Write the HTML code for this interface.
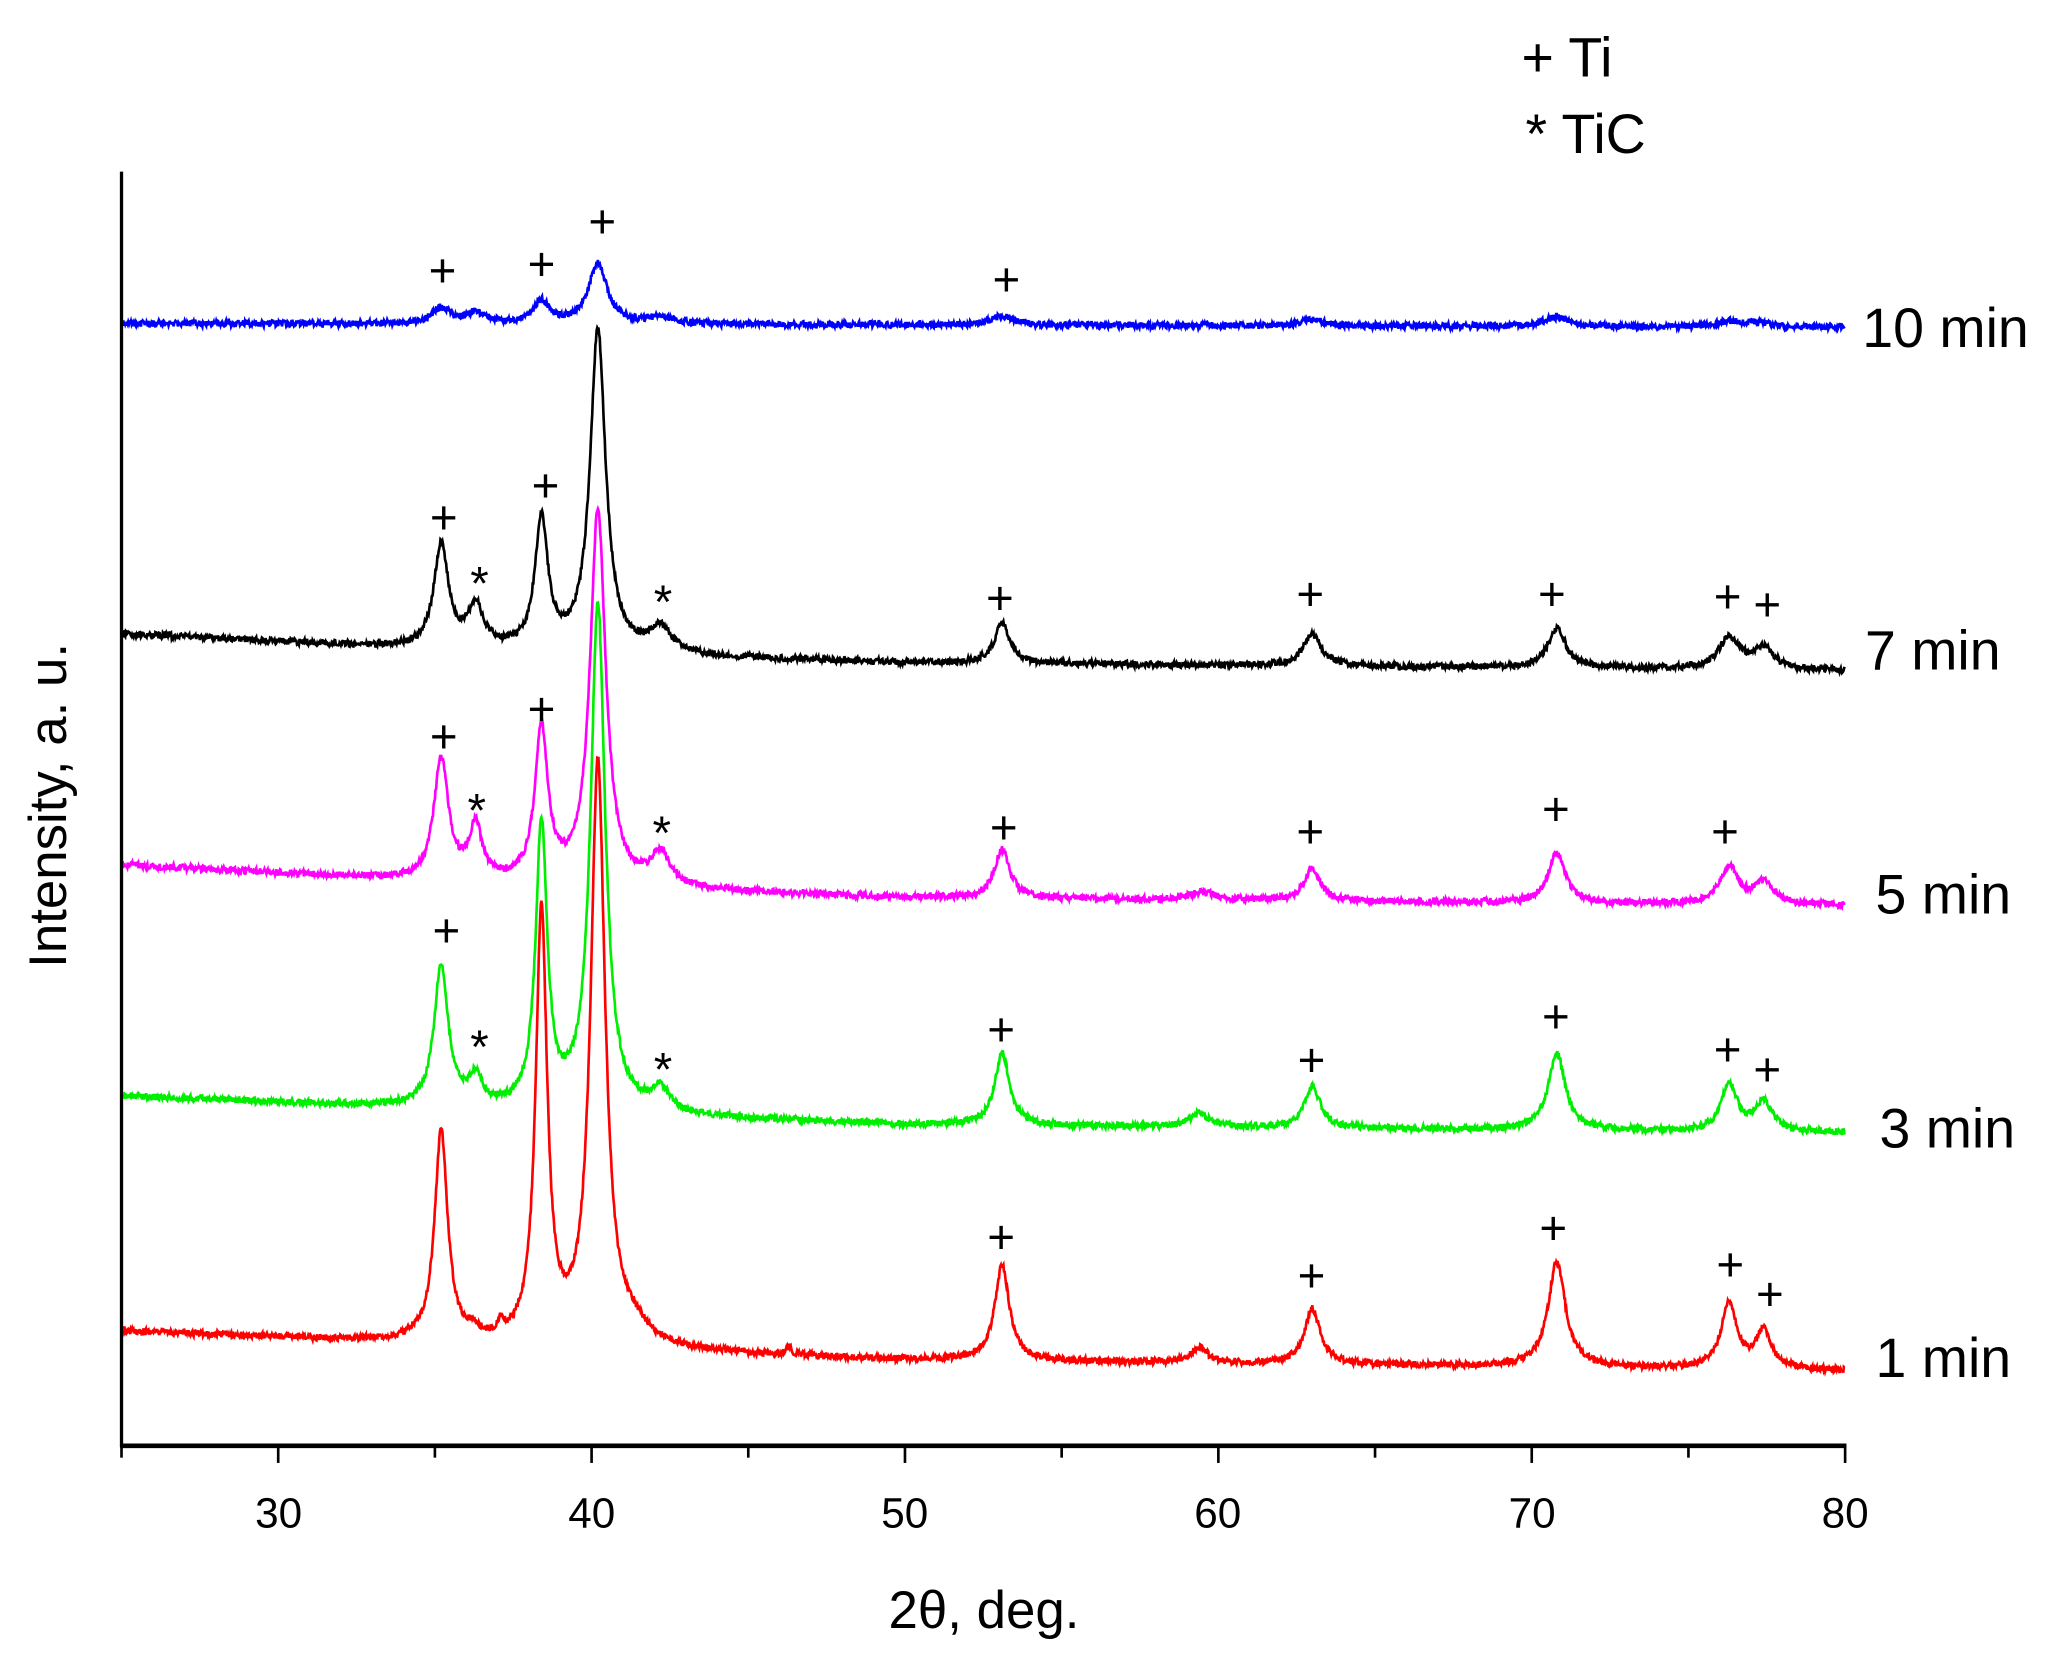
<!DOCTYPE html>
<html><head><meta charset="utf-8"><style>
html,body{margin:0;padding:0;background:#fff;}
svg{display:block;}
text{font-family:"Liberation Sans",sans-serif;fill:#000;}
</style></head><body>
<svg id="s" width="2071" height="1661" viewBox="0 0 1568 1258" preserveAspectRatio="none" xmlns="http://www.w3.org/2000/svg">
<rect width="1568" height="1258" fill="#fff"/>
<g id="curves"></g>
<line x1="92" y1="130" x2="92" y2="1096" stroke="#000" stroke-width="2.5"/>
<line x1="91" y1="1095" x2="1398" y2="1095" stroke="#000" stroke-width="3.5"/>
<g id="ticks" stroke="#000" stroke-width="2"></g>
<g font-size="32" text-anchor="middle">
<text x="211" y="1157">30</text><text x="448" y="1157">40</text><text x="685" y="1157">50</text>
<text x="922" y="1157">60</text><text x="1160" y="1157">70</text><text x="1397" y="1157">80</text>
</g>
<text x="745" y="1233" font-size="40" text-anchor="middle">2θ, deg.</text>
<text transform="translate(50,610) rotate(-90)" font-size="40" text-anchor="middle">Intensity, a. u.</text>
<g font-size="42">
<text x="1410" y="263">10 min</text>
<text x="1412" y="507">7 min</text>
<text x="1420" y="692">5 min</text>
<text x="1423" y="869">3 min</text>
<text x="1420" y="1043">1 min</text>
<text x="1152" y="58">+ Ti</text>
<text x="1155" y="116">* TiC</text>
</g>
<g id="marks" font-size="36" text-anchor="middle" font-weight="300"></g>
</svg>
<script>
var ns="http://www.w3.org/2000/svg";
function X(x){return 92+(x-25)*23.727;}
var seed=12345;function rnd(){seed=(seed*16807)%2147483647;return seed/2147483647;}
var series=[
{c:"#ff0000",b:[[25,1008],[35,1018],[50,1030],[80,1038]],p:[[35.2,160,.25],[36.2,6,.2],[37.1,8,.1],[38.4,325,.22],[40.2,440,.28],[41.3,12,.6],[46.3,6,.1],[53.1,72,.28],[59.4,12,.3],[63.0,42,.3],[70.8,80,.33],[76.3,50,.3],[77.4,28,.3]]},
{c:"#00ee00",b:[[25,830],[35,840],[50,852],[80,858]],p:[[35.2,108,.27],[36.3,22,.25],[38.4,215,.22],[40.2,385,.28],[42.2,18,.35],[53.1,55,.28],[59.4,10,.4],[63.0,32,.3],[70.8,58,.33],[76.3,36,.3],[77.4,22,.35]]},
{c:"#ff00ff",b:[[25,655],[35,668],[50,680],[80,686]],p:[[35.2,92,.28],[36.3,40,.25],[38.4,115,.25],[40.2,285,.3],[42.2,25,.35],[53.1,37,.3],[59.5,6,.5],[63.0,25,.3],[70.8,38,.33],[76.3,28,.35],[77.4,16,.4]]},
{c:"#000000",b:[[25,480],[35,492],[50,502],[80,508]],p:[[35.2,78,.28],[36.3,32,.3],[38.4,98,.25],[40.2,245,.3],[42.2,20,.4],[53.1,30,.3],[63.0,24,.35],[70.8,30,.35],[76.3,24,.4],[77.4,16,.4]]},
{c:"#0000ff",b:[[25,245],[50,246],[80,248]],p:[[35.2,12,.35],[36.3,8,.4],[38.4,17,.3],[40.2,46,.35],[42.2,5,.5],[53.1,7,.4],[63.0,5,.4],[70.8,7,.5],[76.3,4,.5],[77.2,3,.5]]}
];
function base(b,x){for(var i=0;i<b.length-1;i++){if(x<=b[i+1][0]){var t=(x-b[i][0])/(b[i+1][0]-b[i][0]);return b[i][1]+t*(b[i+1][1]-b[i][1]);}}return b[b.length-1][1];}
var g=document.getElementById("curves");
series.forEach(function(s){var d="";for(var x=25;x<=80;x+=0.02){var y=base(s.b,x);s.p.forEach(function(p){var u=(x-p[0])/p[2];y-=p[1]/(1+u*u);});y+=(rnd()-0.5)*5;d+=(d?"L":"M")+X(x).toFixed(1)+" "+y.toFixed(1);}
var e=document.createElementNS(ns,"path");e.setAttribute("d",d);e.setAttribute("fill","none");e.setAttribute("stroke",s.c);e.setAttribute("stroke-width","2");g.appendChild(e);});
var tk=document.getElementById("ticks");
for(var v=25;v<=80;v+=5){var l=document.createElementNS(ns,"line");l.setAttribute("x1",X(v));l.setAttribute("x2",X(v));l.setAttribute("y1",1095);l.setAttribute("y2",v%10==0?1108:1104);tk.appendChild(l);}
var plus=[[335,205],[410,200],[456,168],[762,212],[336,392],[413,368],[757,453],[992,450],[1175,450],[1308,452],[1338,458],[336,558],[410,537],[760,627],[992,630],[1178,613],[1306,630],[338,705],[758,780],[993,803],[1178,770],[1308,795],[1338,810],[758,937],[993,966],[1176,930],[1310,958],[1340,980]];
var stars=[[363,436],[502,450],[361,608],[501,625],[363,787],[502,804]];
var mk=document.getElementById("marks");
plus.forEach(function(p){var t=document.createElementNS(ns,"text");t.setAttribute("x",p[0]);t.setAttribute("y",p[1]+12);t.textContent="+";mk.appendChild(t);});
stars.forEach(function(p){var t=document.createElementNS(ns,"text");t.setAttribute("x",p[0]);t.setAttribute("y",p[1]+18);t.textContent="*";mk.appendChild(t);});
</script>
</body></html>
